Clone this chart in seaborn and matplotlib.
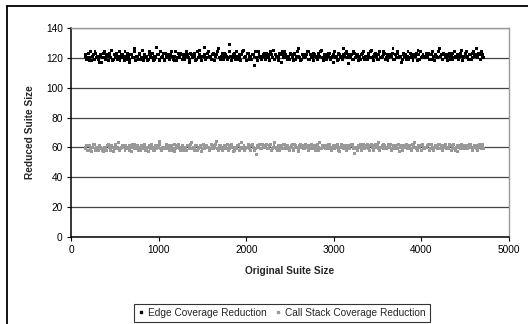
import matplotlib
matplotlib.use("Agg")
import matplotlib.pyplot as plt
from matplotlib.lines import Line2D
import seaborn as sns
import numpy as np
import pandas as pd

# two batches of sampled original suite sizes (x)
suite_size_a = [
    160, 181, 199, 217, 238, 256, 274, 295, 313, 331, 352, 370,
    388, 409, 427, 445, 466, 484, 502, 523, 541, 559, 580, 598,
    616, 637, 655, 673, 694, 712, 730, 751, 769, 787, 808, 826,
    844, 865, 883, 901, 922, 940, 958, 979, 997, 1015, 1036, 1054,
    1072, 1093, 1111, 1129, 1150, 1168, 1186, 1207, 1225, 1243, 1264, 1282,
    1300, 1321, 1339, 1357, 1378, 1396, 1414, 1435, 1453, 1471, 1492, 1510,
    1528, 1549, 1567, 1585, 1606, 1624, 1642, 1663, 1681, 1699, 1720, 1738,
    1756, 1777, 1795, 1813, 1834, 1852, 1870, 1891, 1909, 1927, 1948, 1966,
    1984, 2005, 2023, 2041, 2062, 2080, 2098, 2119, 2137, 2155, 2176, 2194,
    2212, 2233, 2251, 2269, 2290, 2308, 2326, 2347, 2365, 2383, 2404, 2422,
    2440, 2461, 2479, 2497, 2518, 2536, 2554, 2575, 2593, 2611, 2632, 2650,
    2668, 2689, 2707, 2725, 2746, 2764, 2782, 2803, 2821, 2839, 2860, 2878,
    2896, 2917, 2935, 2953, 2974, 2992, 3010, 3031, 3049, 3067, 3088, 3106,
    3124, 3145, 3163, 3181, 3202, 3220, 3238, 3259, 3277, 3295, 3316, 3334,
    3352, 3373, 3391, 3409, 3430, 3448, 3466, 3487, 3505, 3523, 3544, 3562,
    3580, 3601, 3619, 3637, 3658, 3676, 3694, 3715, 3733, 3751, 3772, 3790,
    3808, 3829, 3847, 3865, 3886, 3904, 3922, 3943, 3961, 3979, 4000, 4018,
    4036, 4057, 4075, 4093, 4114, 4132, 4150, 4171, 4189, 4207, 4228, 4246,
    4264, 4285, 4303, 4321, 4342, 4360, 4378, 4399, 4417, 4435, 4456, 4474,
    4492, 4513, 4531, 4549, 4570, 4588, 4606, 4627, 4645, 4663, 4684, 4702,
]
suite_size_b = [
    170, 190, 208, 227, 247, 265, 284, 304, 322, 341, 361, 379,
    398, 418, 436, 455, 475, 493, 512, 532, 550, 569, 589, 607,
    626, 646, 664, 683, 703, 721, 740, 760, 778, 797, 817, 835,
    854, 874, 892, 911, 931, 949, 968, 988, 1006, 1025, 1045, 1063,
    1082, 1102, 1120, 1139, 1159, 1177, 1196, 1216, 1234, 1253, 1273, 1291,
    1310, 1330, 1348, 1367, 1387, 1405, 1424, 1444, 1462, 1481, 1501, 1519,
    1538, 1558, 1576, 1595, 1615, 1633, 1652, 1672, 1690, 1709, 1729, 1747,
    1766, 1786, 1804, 1823, 1843, 1861, 1880, 1900, 1918, 1937, 1957, 1975,
    1994, 2014, 2032, 2051, 2071, 2089, 2108, 2128, 2146, 2165, 2185, 2203,
    2222, 2242, 2260, 2279, 2299, 2317, 2336, 2356, 2374, 2393, 2413, 2431,
    2450, 2470, 2488, 2507, 2527, 2545, 2564, 2584, 2602, 2621, 2641, 2659,
    2678, 2698, 2716, 2735, 2755, 2773, 2792, 2812, 2830, 2849, 2869, 2887,
    2906, 2926, 2944, 2963, 2983, 3001, 3020, 3040, 3058, 3077, 3097, 3115,
    3134, 3154, 3172, 3191, 3211, 3229, 3248, 3268, 3286, 3305, 3325, 3343,
    3362, 3382, 3400, 3419, 3439, 3457, 3476, 3496, 3514, 3533, 3553, 3571,
    3590, 3610, 3628, 3647, 3667, 3685, 3704, 3724, 3742, 3761, 3781, 3799,
    3818, 3838, 3856, 3875, 3895, 3913, 3932, 3952, 3970, 3989, 4009, 4027,
    4046, 4066, 4084, 4103, 4123, 4141, 4160, 4180, 4198, 4217, 4237, 4255,
    4274, 4294, 4312, 4331, 4351, 4369, 4388, 4408, 4426, 4445, 4465, 4483,
    4502, 4522, 4540, 4559, 4579, 4597, 4616, 4636, 4654, 4673, 4693, 4711,
]

edge_reduced_a = [
    121, 119, 123, 120, 118, 122, 124, 120, 119, 121, 117, 123,
    120, 122, 118, 121, 125, 119, 120, 123, 121, 118, 122, 120,
    124, 119, 121, 117, 122, 120, 126, 121, 119, 123, 120, 118,
    122, 121, 119, 124, 120, 118, 121, 127, 122, 119, 120, 123,
    118, 121, 122, 120, 124, 119, 121, 118, 123, 120, 122, 121,
    119, 124, 120, 117, 122, 121, 123, 119, 120, 125, 118, 121,
    122, 120, 124, 121, 119, 123, 118, 122, 126, 120, 121, 119,
    123, 121, 120, 129, 118, 122, 121, 124, 119, 120, 122, 125,
    120, 118, 123, 121, 119, 122, 115, 120, 124, 121, 119, 122,
    121, 123, 120, 118, 122, 125, 119, 121, 120, 123, 117, 122,
    124, 120, 121, 119, 122, 118, 123, 121, 126, 120, 119, 122,
    120, 122, 124, 119, 121, 118, 122, 120, 123, 121, 125, 119,
    122, 119, 121, 123, 120, 117, 124, 121, 119, 122, 120, 126,
    121, 124, 116, 120, 122, 119, 123, 121, 118, 120, 122, 124,
    119, 121, 123, 120, 125, 118, 122, 121, 119, 124, 120, 122,
    123, 120, 118, 122, 121, 126, 119, 120, 123, 121, 117, 122,
    121, 119, 124, 120, 122, 118, 121, 123, 125, 119, 120, 122,
    120, 123, 121, 119, 122, 124, 118, 121, 120, 126, 122, 119,
    122, 120, 118, 123, 121, 119, 124, 120, 122, 121, 125, 118,
    121, 124, 120, 122, 119, 123, 121, 126, 120, 122, 124, 121,
]
edge_reduced_b = [
    122, 120, 118, 124, 121, 119, 123, 121, 117, 122, 120, 124,
    119, 121, 123, 120, 118, 122, 121, 119, 124, 120, 122, 118,
    121, 123, 119, 122, 120, 124, 118, 121, 122, 119, 125, 120,
    120, 118, 122, 121, 123, 119, 120, 122, 118, 124, 121, 119,
    123, 120, 119, 122, 121, 118, 124, 120, 121, 123, 119, 122,
    121, 122, 119, 123, 120, 121, 118, 124, 122, 120, 121, 127,
    119, 123, 121, 120, 122, 118, 121, 124, 120, 119, 123, 121,
    122, 119, 124, 121, 120, 123, 119, 121, 122, 118, 124, 120,
    121, 123, 119, 120, 122, 121, 124, 118, 122, 120, 121, 123,
    119, 121, 122, 124, 120, 119, 122, 121, 118, 122, 124, 120,
    122, 119, 121, 123, 120, 122, 119, 124, 121, 118, 122, 121,
    121, 124, 119, 122, 120, 123, 121, 119, 122, 124, 120, 118,
    120, 122, 123, 119, 121, 122, 120, 118, 123, 121, 119, 122,
    123, 120, 122, 121, 119, 124, 120, 122, 121, 119, 123, 120,
    121, 119, 122, 124, 120, 121, 123, 119, 122, 120, 121, 124,
    119, 122, 120, 121, 123, 119, 122, 124, 120, 121, 119, 123,
    122, 121, 119, 123, 120, 122, 121, 118, 122, 124, 121, 120,
    121, 120, 123, 122, 119, 121, 122, 120, 124, 121, 119, 123,
    120, 122, 121, 119, 123, 120, 121, 122, 119, 123, 121, 120,
    123, 121, 119, 122, 120, 124, 122, 121, 123, 119, 122, 120,
]

callstack_reduced_a = [
    59, 61, 58, 60, 57, 62, 59, 60, 58, 61, 59, 57,
    60, 58, 62, 59, 61, 57, 60, 59, 63, 58, 60, 61,
    58, 60, 59, 61, 57, 60, 62, 59, 58, 60, 61, 59,
    61, 59, 57, 60, 62, 58, 60, 59, 61, 64, 58, 60,
    59, 62, 60, 58, 61, 59, 57, 60, 62, 59, 60, 58,
    60, 58, 61, 59, 63, 60, 58, 61, 59, 60, 57, 62,
    59, 61, 60, 58, 62, 59, 60, 64, 58, 61, 59, 60,
    61, 59, 58, 60, 62, 57, 60, 59, 61, 58, 63, 60,
    58, 60, 62, 59, 61, 60, 58, 55, 60, 62, 59, 61,
    60, 62, 59, 61, 58, 60, 63, 59, 60, 58, 61, 59,
    62, 59, 60, 58, 61, 59, 62, 60, 57, 61, 60, 59,
    59, 61, 58, 60, 62, 59, 61, 60, 58, 63, 59, 60,
    61, 60, 59, 62, 58, 60, 59, 61, 60, 57, 62, 59,
    60, 58, 61, 59, 62, 60, 56, 59, 61, 60, 58, 62,
    59, 61, 60, 58, 62, 59, 61, 60, 63, 58, 60, 59,
    61, 59, 62, 60, 58, 61, 59, 60, 62, 57, 61, 60,
    60, 62, 59, 61, 58, 60, 63, 59, 61, 60, 58, 62,
    59, 60, 61, 58, 62, 59, 60, 61, 59, 62, 60, 58,
    61, 59, 60, 62, 58, 61, 59, 60, 57, 61, 62, 59,
    60, 61, 59, 62, 60, 58, 61, 59, 60, 62, 59, 61,
]
callstack_reduced_b = [
    60, 58, 61, 59, 60, 62, 58, 59, 61, 60, 58, 60,
    59, 61, 60, 58, 60, 59, 62, 60, 58, 59, 61, 60,
    61, 59, 58, 60, 62, 59, 60, 61, 59, 58, 60, 62,
    58, 60, 61, 59, 60, 58, 61, 60, 62, 59, 60, 59,
    60, 59, 61, 60, 58, 62, 59, 61, 60, 58, 61, 60,
    59, 61, 60, 62, 59, 60, 61, 58, 60, 61, 59, 60,
    61, 60, 58, 59, 61, 60, 62, 59, 60, 61, 58, 59,
    60, 62, 59, 61, 60, 58, 59, 61, 62, 60, 59, 61,
    59, 60, 61, 58, 62, 60, 59, 61, 60, 59, 62, 60,
    61, 59, 60, 62, 59, 61, 60, 58, 61, 60, 59, 62,
    60, 61, 59, 60, 62, 58, 61, 60, 59, 62, 60, 61,
    62, 60, 61, 59, 60, 61, 58, 62, 60, 59, 61, 60,
    59, 61, 62, 60, 59, 61, 60, 62, 58, 60, 61, 59,
    61, 59, 60, 61, 62, 59, 60, 58, 61, 62, 60, 59,
    60, 62, 59, 61, 60, 58, 62, 61, 59, 60, 61, 62,
    59, 60, 61, 62, 59, 60, 61, 59, 62, 60, 58, 61,
    61, 59, 60, 59, 62, 61, 60, 58, 60, 61, 62, 60,
    60, 61, 62, 59, 60, 58, 61, 60, 62, 59, 61, 60,
    62, 60, 59, 61, 60, 62, 58, 61, 60, 59, 60, 61,
    59, 61, 60, 62, 59, 60, 61, 58, 61, 60, 62, 59,
]

series_names = ["Edge Coverage Reduction", "Call Stack Coverage Reduction"]
series_colors = ["black", "#999999"]
x_ticks = [0, 1000, 2000, 3000, 4000, 5000]
y_ticks = [0, 20, 40, 60, 80, 100, 120, 140]

df = pd.concat([
    pd.DataFrame({"orig": suite_size_a + suite_size_b,
                  "reduced": edge_reduced_a + edge_reduced_b,
                  "series": series_names[0]}),
    pd.DataFrame({"orig": suite_size_a + suite_size_b,
                  "reduced": callstack_reduced_a + callstack_reduced_b,
                  "series": series_names[1]}),
])

sns.set_style("white")
plt.rcParams['font.family'] = ['Liberation Sans', 'DejaVu Sans']

fig = plt.figure(figsize=(5.28, 3.24), dpi=100)
ax = fig.add_axes([0.1345, 0.2685, 0.8295, 0.645])

sns.scatterplot(data=df, x="orig", y="reduced", hue="series",
                palette=dict(zip(series_names, series_colors)),
                marker="s", s=4.5, linewidth=0, ax=ax, legend=False, zorder=3)

ax.set_xlim(0, 5000)
ax.set_ylim(0, 140)
ax.set_xticks(x_ticks)
ax.set_yticks(y_ticks)
ax.yaxis.grid(True, color="#444444", linewidth=0.9)
ax.set_axisbelow(True)
for s in ["left", "bottom"]:
    ax.spines[s].set_color("black")
    ax.spines[s].set_linewidth(1.1)
for s in ["right", "top"]:
    ax.spines[s].set_color("#999999")
    ax.spines[s].set_linewidth(1.0)
ax.tick_params(axis="both", direction="out", length=3, width=0.8, labelsize=7.3,
               colors="black", pad=3, left=True, bottom=True)

ax.set_xlabel("Original Suite Size", fontsize=7.3, fontweight="bold", labelpad=8)
ax.set_ylabel("Reduced Suite Size", fontsize=7.3, fontweight="bold", labelpad=8)

handles = [Line2D([], [], linestyle="none", marker="s", markersize=1.8, color=c)
           for c in series_colors]
leg = fig.legend(handles, series_names, loc="center", bbox_to_anchor=(0.534, 0.034),
                 ncol=2, fontsize=7.3, frameon=True, fancybox=False,
                 handlelength=0.6, handletextpad=0.4, columnspacing=0.8,
                 borderpad=0.4, borderaxespad=0)
leg.get_frame().set_edgecolor("black")
leg.get_frame().set_linewidth(0.8)

# outer chart frame (left and top edges visible)
fig.add_artist(Line2D([7 / 528, 7 / 528], [0, 1 - 6 / 324], transform=fig.transFigure,
                      color="black", linewidth=1.3))
fig.add_artist(Line2D([7 / 528, 1], [1 - 6 / 324, 1 - 6 / 324], transform=fig.transFigure,
                      color="black", linewidth=1.3))

plt.savefig("out.png", dpi=100)
